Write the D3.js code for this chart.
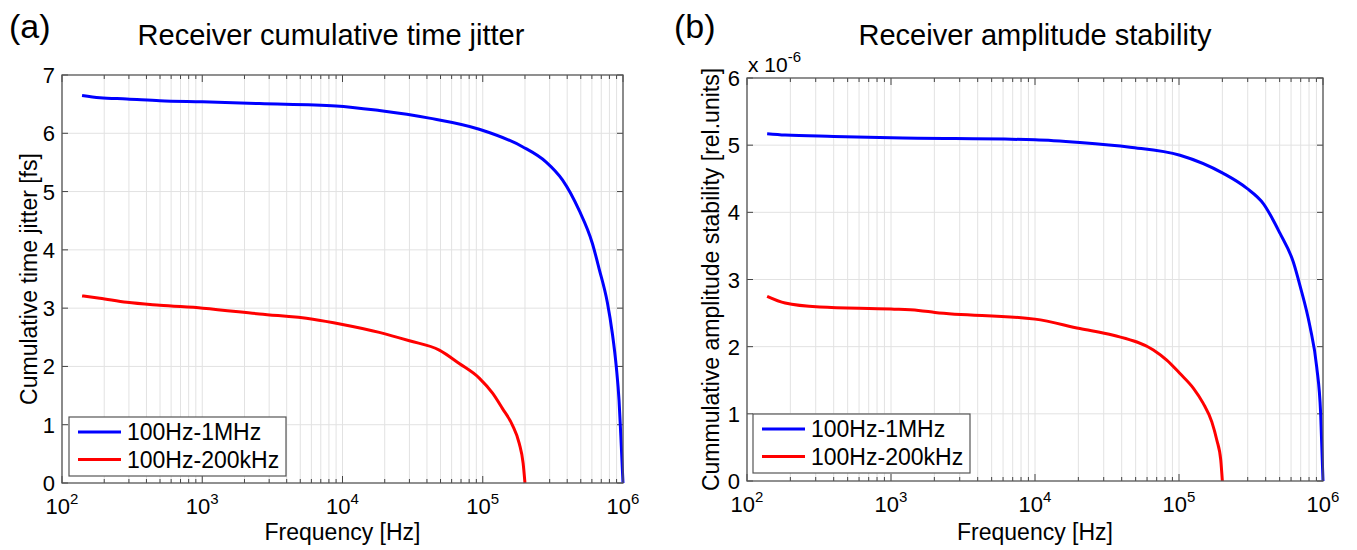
<!DOCTYPE html>
<html>
<head>
<meta charset="utf-8">
<script src="https://cdn.jsdelivr.net/npm/d3@7"></script>
<style>
  body { margin: 0; background: #fff; }
  svg { font-family: "Liberation Sans", Arial, sans-serif; }
</style>
</head>
<body>
<script>
// series (frequency in Hz, value)
var jitterFreq1M = [139, 186, 290, 498, 1000, 2560, 9000, 18300, 41600, 94400, 192000, 282000, 370000, 486000, 605000, 675000, 773000, 839000, 896000, 937000, 963000, 1000000];
var jitter1M     = [6.65, 6.61, 6.59, 6.56, 6.54, 6.51, 6.47, 6.39, 6.26, 6.07, 5.77, 5.51, 5.20, 4.68, 4.11, 3.68, 3.10, 2.57, 1.99, 1.42, 0.85, 0];
var jitterFreq200k = [139, 186, 290, 498, 1010, 2560, 6150, 10000, 18300, 30000, 49000, 68000, 94400, 117500, 138000, 163000, 182000, 194000, 200000];
var jitter200k     = [3.21, 3.17, 3.10, 3.05, 3.00, 2.90, 2.81, 2.72, 2.585, 2.44, 2.28, 2.05, 1.80, 1.54, 1.28, 0.99, 0.68, 0.34, 0];

var ampFreq1M = [138, 184, 400, 1000, 10000, 20500, 45700, 101600, 203000, 295000, 385000, 502000, 622000, 692000, 812000, 904000, 963000, 1000000];
var amp1M     = [5.17, 5.15, 5.13, 5.11, 5.08, 5.04, 4.97, 4.85, 4.58, 4.36, 4.13, 3.69, 3.26, 2.91, 2.30, 1.70, 1.01, 0];
var ampFreq200k = [138, 184, 320, 1000, 1550, 2020, 10000, 20500, 35000, 66400, 82200, 101600, 126000, 147000, 169000, 183000, 195000, 200000];
var amp200k     = [2.75, 2.65, 2.59, 2.56, 2.54, 2.51, 2.41, 2.27, 2.17, 1.95, 1.80, 1.60, 1.38, 1.16, 0.88, 0.61, 0.31, 0];

var seriesNames = ["100Hz-1MHz", "100Hz-200kHz"];
var seriesColors = ["#0000ff", "#ff0000"];
var xDecades = [2, 3, 4, 5, 6];

var svg = d3.select("body").append("svg")
  .attr("width", 1357)
  .attr("height", 550);

function drawPanel(p) {
  var x = d3.scaleLog().domain([100, 1e6]).range([p.left, p.right]);
  var y = d3.scaleLinear().domain([0, p.ymax]).range([p.bottom, p.top]);
  var g = svg.append("g");

  // minor + major frequency values
  var xMinor = [];
  for (var e = 2; e < 6; e++) for (var m = 2; m <= 9; m++) xMinor.push(m * Math.pow(10, e));
  var xMajor = xDecades.map(d => Math.pow(10, d));

  // grid
  g.selectAll(".vgrid").data(xMinor.concat(xMajor)).enter().append("line")
    .attr("x1", d => x(d)).attr("x2", d => x(d))
    .attr("y1", p.top).attr("y2", p.bottom)
    .style("stroke", "#e2e2e2").style("stroke-width", 1);
  g.selectAll(".hgrid").data(d3.range(1, p.ymax)).enter().append("line")
    .attr("x1", p.left).attr("x2", p.right)
    .attr("y1", d => y(d)).attr("y2", d => y(d))
    .style("stroke", "#e2e2e2").style("stroke-width", 1);

  // inward ticks on all sides
  [p.bottom, p.top].forEach(function(yy) {
    var dir = yy === p.bottom ? -1 : 1;
    g.selectAll(null).data(xMinor).enter().append("line")
      .attr("x1", d => x(d)).attr("x2", d => x(d))
      .attr("y1", yy).attr("y2", yy + dir * 4)
      .style("stroke", "#444");
    g.selectAll(null).data(xMajor).enter().append("line")
      .attr("x1", d => x(d)).attr("x2", d => x(d))
      .attr("y1", yy).attr("y2", yy + dir * 7)
      .style("stroke", "#444");
  });
  [p.left, p.right].forEach(function(xx) {
    var dir = xx === p.left ? 1 : -1;
    g.selectAll(null).data(d3.range(0, p.ymax + 1)).enter().append("line")
      .attr("x1", xx).attr("x2", xx + dir * 6)
      .attr("y1", d => y(d)).attr("y2", d => y(d))
      .style("stroke", "#444");
  });

  // lines
  var line = d3.line().x(d => x(d[0])).y(d => y(d[1])).curve(d3.curveMonotoneX);
  p.series.forEach(function(s, i) {
    g.append("path")
      .datum(d3.zip(s.freq, s.vals))
      .attr("d", line)
      .style("fill", "none")
      .style("stroke", seriesColors[i])
      .style("stroke-width", 3);
  });

  // box
  g.append("rect")
    .attr("x", p.left).attr("y", p.top)
    .attr("width", p.right - p.left).attr("height", p.bottom - p.top)
    .style("fill", "none").style("stroke", "#555").style("stroke-width", 1.3);

  // x tick labels
  var xl = g.selectAll(".xl").data(xDecades).enter().append("text")
    .attr("x", d => x(Math.pow(10, d)))
    .attr("y", p.bottom + 31)
    .attr("text-anchor", "middle")
    .style("font-size", "22px");
  xl.append("tspan").text("10");
  xl.append("tspan").attr("dy", -10).style("font-size", "15px").text(d => d);

  // y tick labels
  g.selectAll(".yl").data(d3.range(0, p.ymax + 1)).enter().append("text")
    .attr("x", p.left - 7)
    .attr("y", d => y(d) + 8)
    .attr("text-anchor", "end")
    .style("font-size", "22px")
    .text(d => d);

  if (p.exponent) {
    var ex = g.append("text").attr("x", p.left + 1).attr("y", p.top - 6)
      .style("font-size", "21px");
    ex.append("tspan").text("x 10");
    ex.append("tspan").attr("dy", -10).style("font-size", "15px").text("-6");
  }

  // axis labels and titles
  g.append("text")
    .attr("x", (p.left + p.right) / 2).attr("y", 540)
    .attr("text-anchor", "middle").style("font-size", "23px")
    .text("Frequency [Hz]");
  g.append("text")
    .attr("transform", "translate(" + p.ylabelX + "," + (p.top + p.bottom) / 2 + ") rotate(-90)")
    .attr("text-anchor", "middle").style("font-size", "23px")
    .text(p.ylabel);
  g.append("text")
    .attr("x", p.titleX).attr("y", 45)
    .attr("text-anchor", "middle").style("font-size", "29px")
    .text(p.title);
  g.append("text")
    .attr("x", p.tagX).attr("y", 38)
    .style("font-size", "34px")
    .text(p.tag);

  // legend
  var lg = g.append("g");
  lg.append("rect")
    .attr("x", p.legend[0]).attr("y", p.legend[1])
    .attr("width", 217).attr("height", 59)
    .style("fill", "#fff").style("stroke", "#555").style("stroke-width", 1.2);
  seriesNames.forEach(function(name, i) {
    var ly = p.legend[1] + 15 + i * 27.5;
    lg.append("line")
      .attr("x1", p.legend[0] + 9).attr("x2", p.legend[0] + 52)
      .attr("y1", ly).attr("y2", ly)
      .style("stroke", seriesColors[i]).style("stroke-width", 3);
    lg.append("text")
      .attr("x", p.legend[0] + 58).attr("y", ly + 8)
      .style("font-size", "23px")
      .text(name);
  });
}

drawPanel({
  left: 62, right: 623, top: 75, bottom: 483, ymax: 7,
  series: [{freq: jitterFreq1M, vals: jitter1M}, {freq: jitterFreq200k, vals: jitter200k}],
  ylabel: "Cumulative time jitter [fs]", ylabelX: 37,
  title: "Receiver cumulative time jitter", titleX: 331,
  tag: "(a)", tagX: 9,
  legend: [69, 417]
});

drawPanel({
  left: 747, right: 1323, top: 78, bottom: 481, ymax: 6,
  series: [{freq: ampFreq1M, vals: amp1M}, {freq: ampFreq200k, vals: amp200k}],
  ylabel: "Cummulative amplitude stability [rel.units]", ylabelX: 719,
  title: "Receiver amplitude stability", titleX: 1035,
  tag: "(b)", tagX: 674,
  legend: [753, 414],
  exponent: true
});
</script>
</body>
</html>
